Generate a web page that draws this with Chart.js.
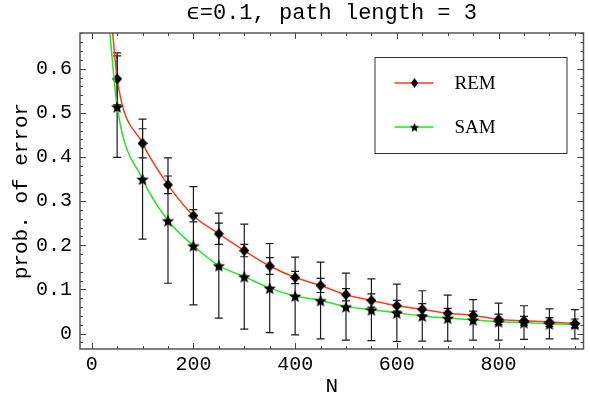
<!DOCTYPE html>
<html>
<head>
<meta charset="utf-8">
<script src="https://cdn.jsdelivr.net/npm/chart.js@4.4.0/dist/chart.umd.min.js"></script>
<style>
  html, body { margin: 0; padding: 0; background: #fff; }
  #wrap { width: 590px; height: 400px; }
</style>
</head>
<body>
<div id="wrap"><canvas id="error_chart"></canvas></div>
<script>
// sample sizes (x) and measured error probabilities
const sampleSizes = [50, 100, 150, 200, 250, 300, 350, 400, 450, 500, 550, 600, 650, 700, 750, 800, 850, 900, 950];
const remValues = [0.577, 0.431, 0.337, 0.267, 0.226, 0.188, 0.153, 0.127, 0.109, 0.088, 0.075, 0.063, 0.055, 0.046, 0.041, 0.032, 0.029, 0.026, 0.023];
const remErrors = [0.059, 0.033, 0.020, 0.014, 0.024, 0.014, 0.019, 0.014, 0.016, 0.014, 0.015, 0.012, 0.013, 0.011, 0.010, 0.012, 0.010, 0.010, 0.010];
const samValues = [0.514, 0.350, 0.256, 0.199, 0.154, 0.129, 0.103, 0.085, 0.075, 0.061, 0.054, 0.047, 0.040, 0.035, 0.031, 0.027, 0.025, 0.022, 0.021];
const samErrors = [0.115, 0.136, 0.142, 0.134, 0.119, 0.119, 0.101, 0.088, 0.087, 0.076, 0.070, 0.065, 0.057, 0.052, 0.046, 0.042, 0.038, 0.034, 0.033];
// where each fitted curve leaves the top of the frame
const remCurveStart = [41, 0.685];
const samCurveStart = [35, 0.69];

const xTicks = [0, 200, 400, 600, 800];
const yTicks = [0, 0.1, 0.2, 0.3, 0.4, 0.5, 0.6];
const seriesNames = ['REM', 'SAM'];

const monoFont = "'Liberation Mono', 'Courier New', monospace";

// marker images
function makeDiamond(w, h) {
    const c = document.createElement('canvas');
    c.width = w; c.height = h;
    const g = c.getContext('2d');
    g.fillStyle = '#000';
    g.beginPath();
    g.moveTo(w / 2, 0);
    g.lineTo(w, h / 2);
    g.lineTo(w / 2, h);
    g.lineTo(0, h / 2);
    g.closePath();
    g.fill();
    return c;
}

function makeStar(r) {
    const s = Math.ceil(r * 2 + 1);
    const c = document.createElement('canvas');
    c.width = s; c.height = s;
    const g = c.getContext('2d');
    g.fillStyle = '#000';
    g.beginPath();
    for (let i = 0; i < 10; i++) {
        const rad = i % 2 === 0 ? r : r * 0.45;
        const a = -Math.PI / 2 + i * Math.PI / 5;
        const px = s / 2 + rad * Math.cos(a);
        const py = s / 2 + 0.8 + rad * Math.sin(a);
        if (i === 0) g.moveTo(px, py); else g.lineTo(px, py);
    }
    g.closePath();
    g.fill();
    return c;
}

const diamondImg = makeDiamond(10, 11);
const starImg = makeStar(6.5);
const diamondSmall = makeDiamond(7, 10);
const starSmall = makeStar(4.8);

function toPoints(values, start) {
    const pts = [{x: start[0], y: start[1]}];
    values.forEach(function(v, i) { pts.push({x: sampleSizes[i], y: v}); });
    return pts;
}

// error bars, drawn before the curves
const errorBars = {
    id: 'errorBars',
    beforeDatasetsDraw: function(chart) {
        const ctx = chart.ctx;
        const xs = chart.scales.x, ys = chart.scales.y;
        const a = chart.chartArea;
        ctx.save();
        ctx.beginPath();
        ctx.rect(a.left, a.top, a.right - a.left, a.bottom - a.top);
        ctx.clip();
        ctx.strokeStyle = '#1a1a1a';
        ctx.lineWidth = 1.2;
        [[samValues, samErrors], [remValues, remErrors]].forEach(function(s) {
            s[0].forEach(function(v, i) {
                const x = xs.getPixelForValue(sampleSizes[i]);
                const y1 = ys.getPixelForValue(v + s[1][i]);
                const y2 = ys.getPixelForValue(v - s[1][i]);
                ctx.beginPath();
                ctx.moveTo(x, y1); ctx.lineTo(x, y2);
                ctx.moveTo(x - 4, y1); ctx.lineTo(x + 4, y1);
                ctx.moveTo(x - 4, y2); ctx.lineTo(x + 4, y2);
                ctx.stroke();
            });
        });
        ctx.restore();
    }
};

// frame with inward ticks on all four sides, plus the boxed legend
const frameAndLegend = {
    id: 'frameAndLegend',
    afterDraw: function(chart) {
        const ctx = chart.ctx;
        const xs = chart.scales.x, ys = chart.scales.y;
        const a = chart.chartArea;
        ctx.save();
        ctx.strokeStyle = '#555';
        ctx.lineWidth = 1.5;
        ctx.strokeRect(a.left, a.top, a.right - a.left, a.bottom - a.top);

        ctx.lineWidth = 1;
        ctx.strokeStyle = '#444';
        ctx.beginPath();
        for (let v = -50; v <= xs.max; v += 50) {
            if (v < xs.min) continue;
            const x = Math.round(xs.getPixelForValue(v)) + 0.5;
            const len = v % 200 === 0 ? 6 : 3;
            ctx.moveTo(x, a.bottom); ctx.lineTo(x, a.bottom - len);
            ctx.moveTo(x, a.top); ctx.lineTo(x, a.top + len);
        }
        for (let k = -2; k * 0.02 <= ys.max; k++) {
            const v = k * 0.02;
            if (v < ys.min) continue;
            const y = Math.round(ys.getPixelForValue(v)) + 0.5;
            const len = k % 5 === 0 ? 6 : 3;
            ctx.moveTo(a.left, y); ctx.lineTo(a.left + len, y);
            ctx.moveTo(a.right, y); ctx.lineTo(a.right - len, y);
        }
        ctx.stroke();

        // legend
        const lx = a.right - 209, ly = a.top + 24;
        ctx.fillStyle = '#fff';
        ctx.fillRect(lx, ly, 192, 96);
        ctx.strokeStyle = '#333';
        ctx.lineWidth = 1;
        ctx.strokeRect(lx + 0.5, ly + 0.5, 192, 96);
        const rows = [
            {name: seriesNames[0], color: '#ff3b1e', img: diamondSmall, y: ly + 26},
            {name: seriesNames[1], color: '#22e622', img: starSmall, y: ly + 70}
        ];
        ctx.font = "19px 'Liberation Serif', 'Times New Roman', serif";
        ctx.textBaseline = 'middle';
        rows.forEach(function(r) {
            ctx.strokeStyle = r.color;
            ctx.lineWidth = 1.5;
            ctx.beginPath();
            ctx.moveTo(lx + 20, r.y); ctx.lineTo(lx + 59, r.y);
            ctx.stroke();
            ctx.drawImage(r.img, lx + 40 - r.img.width / 2, r.y - r.img.height / 2);
            ctx.fillStyle = '#000';
            ctx.fillText(r.name, lx + 80, r.y + 1);
        });
        ctx.restore();
    }
};

const chart_error = document.getElementById('error_chart');

let chartError = new Chart(chart_error, {
    type: 'line',
    data: {
        datasets: [{
            label: seriesNames[1],
            data: toPoints(samValues, samCurveStart),
            borderColor: '#22e622',
            borderWidth: 1.5,
            cubicInterpolationMode: 'monotone',
            pointStyle: starImg,
            pointRadius: function(c) { return c.dataIndex === 0 ? 0 : 5; },
            clip: 0,
            fill: false
        }, {
            label: seriesNames[0],
            data: toPoints(remValues, remCurveStart),
            borderColor: '#ff3b1e',
            borderWidth: 1.5,
            cubicInterpolationMode: 'monotone',
            pointStyle: diamondImg,
            pointRadius: function(c) { return c.dataIndex === 0 ? 0 : 5; },
            clip: 0,
            fill: false
        }]
    },
    options: {
        responsive: true,
        maintainAspectRatio: false,
        animation: false,
        events: [],
        layout: { padding: { left: 0, right: 3, top: 0, bottom: 0 } },
        plugins: {
            legend: { display: false },
            tooltip: { enabled: false },
            title: {
                display: true,
                fullSize: false,
                text: '\u03f5=0.1, path length = 3',
                color: '#000',
                font: { family: monoFont, size: 22, weight: 'normal' },
                padding: { top: 0, bottom: 6.6 }
            }
        },
        scales: {
            x: {
                type: 'linear',
                min: -23,
                max: 967,
                afterBuildTicks: function(s) { s.ticks = xTicks.map(function(v) { return {value: v}; }); },
                afterFit: function(s) { s.height = 51; },
                grid: { display: false, drawTicks: false },
                border: { display: false },
                ticks: {
                    color: '#000',
                    padding: 4,
                    maxRotation: 0,
                    font: { family: monoFont, size: 20 },
                    callback: function(v) { return String(v); }
                },
                title: {
                    display: true,
                    text: 'N',
                    color: '#000',
                    font: { family: monoFont, size: 21 },
                    padding: { top: 0, bottom: 1 }
                }
            },
            y: {
                type: 'linear',
                min: -0.035,
                max: 0.681,
                afterBuildTicks: function(s) { s.ticks = yTicks.map(function(v) { return {value: v}; }); },
                afterFit: function(s) { s.width = 80; },
                grid: { display: false, drawTicks: false },
                border: { display: false },
                ticks: {
                    color: '#000',
                    padding: 8,
                    font: { family: monoFont, size: 20 },
                    callback: function(v) { return String(v); }
                },
                title: {
                    display: true,
                    text: 'prob. of error',
                    color: '#000',
                    font: { family: monoFont, size: 21 },
                    padding: { top: 9, bottom: 0 }
                }
            }
        }
    },
    plugins: [errorBars, frameAndLegend]
});
</script>
</body>
</html>
